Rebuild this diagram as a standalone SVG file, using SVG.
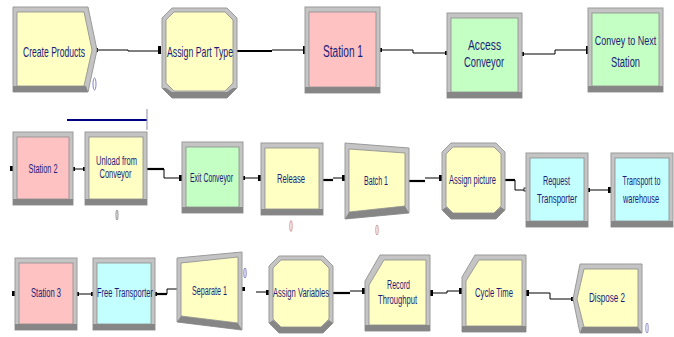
<svg xmlns="http://www.w3.org/2000/svg" width="674" height="337" viewBox="0 0 674 337">
<style>
.o{fill:#c4c4c4;stroke:#9a9a9a;stroke-width:1}
.b{fill:#868686}
.i{stroke:#8c8c8c;stroke-width:0.8}
.y{fill:#ffffc4}
.p{fill:#ffc2c2}
.g{fill:#c4ffc4}
.c{fill:#c4ffff}
.t{font-family:"Liberation Sans",Arial,sans-serif;fill:#1c1c78;text-anchor:middle}
.t1{font-size:15px}
.t2{font-size:12.5px}
.w{fill:none;stroke:#000;stroke-width:1}
.k{fill:none;stroke:#000;stroke-width:2.2}
.e{fill:#000}
.cnt{fill:none;stroke-width:1}
</style>
<rect width="674" height="337" fill="#fff"/>
<g id="connectors">
<path class="w" d="M97,50 H128 V51 H160"/><rect class="e" x="158" y="46" width="3" height="8"/><rect class="e" x="96" y="48" width="2" height="4"/>
<path class="k" d="M237,51 H272"/><path class="w" d="M272,50 H305"/><rect class="e" x="303" y="46" width="3" height="8"/>
<path class="w" d="M380,50 H413 V53 H447"/><rect class="e" x="379" y="48" width="3" height="4"/><rect class="e" x="445" y="51" width="3" height="4"/>
<path class="w" d="M522,54 H555 V50 H588"/><rect class="e" x="521" y="52" width="3" height="4"/><rect class="e" x="586" y="46" width="3" height="8"/>
<rect class="e" x="10" y="166" width="3" height="5"/>
<path class="w" d="M73,169 H85"/><rect class="e" x="73" y="167" width="2" height="4"/><rect class="e" x="83" y="167" width="2" height="4"/>
<path class="k" d="M147,169 H164"/><path class="w" d="M164,169 V178 H182"/><rect class="e" x="179" y="175" width="3" height="6"/>
<path class="w" d="M243,178 H261"/><rect class="e" x="243" y="176" width="2" height="4"/><rect class="e" x="258" y="175" width="3" height="6"/>
<path class="k" d="M323,180 H333"/><path class="w" d="M333,178 H345"/><rect class="e" x="342" y="175" width="3" height="6"/>
<path class="k" d="M409,181 H425"/><path class="w" d="M425,178 H442"/><rect class="e" x="439" y="175" width="3" height="6"/>
<path class="k" d="M505,180 H515"/><path class="w" d="M515,180 V190 H526"/><rect x="524" y="188" width="3" height="3" fill="#fff" stroke="#000" stroke-width="0.8"/>
<path class="w" d="M588,190 H611"/><rect class="e" x="588" y="188" width="2" height="4"/><rect class="e" x="608" y="187" width="3" height="6"/>
<rect class="e" x="12" y="291" width="3" height="5"/>
<path class="w" d="M77,294 H93"/><rect class="e" x="77" y="292" width="2" height="4"/><rect class="e" x="91" y="292" width="2" height="4"/>
<path class="k" d="M155,294 H167"/><path class="w" d="M167,294 V289 H177"/><rect class="e" x="155" y="292" width="2" height="4"/>
<rect class="e" x="242" y="287" width="3" height="4"/>
<path class="w" d="M256,292 H269"/><rect class="e" x="266" y="290" width="3" height="5"/>
<path class="k" d="M333,293 H350"/><path class="w" d="M350,291 H365"/><rect class="e" x="362" y="288" width="3" height="6"/>
<path class="w" d="M430,293 H447 V291 H462"/><rect class="e" x="430" y="290" width="3" height="6"/><rect class="e" x="459" y="288" width="3" height="6"/>
<path class="w" d="M526,293 H550 V299 H573"/><rect class="e" x="526" y="290" width="3" height="6"/><rect class="e" x="571" y="297" width="3" height="4"/>
<path d="M67,120 H147" stroke="#000080" stroke-width="2"/><path d="M147,109 V130" stroke="#8a8ab0" stroke-width="1"/>
</g>
<g id="create-products">
<polygon class="o" points="13,7 88,7 97,50 88,92 13,92"/>
<polygon class="b" points="13,86 86,86 88,92 13,92"/>
<polygon class="i y" points="17,12 84,12 92,50 84,86 17,86"/>
<text class="t t1" x="54" y="57" textLength="62" lengthAdjust="spacingAndGlyphs">Create Products</text>
<ellipse class="cnt" cx="94.5" cy="84" rx="1.5" ry="6" stroke="#8080c8"/>
</g>
<g id="assign-part-type">
<polygon class="o" points="172,8 227,8 237,18 237,88 227,98 172,98 162,88 162,18"/>
<polygon class="b" points="166,88 172,92 227,92 233,88 237,88 227,98 172,98 162,88"/>
<polygon class="i y" points="174,12 225,12 233,20 233,83 225,91 174,91 166,83 166,20"/>
<text class="t t1" x="200" y="57" textLength="66" lengthAdjust="spacingAndGlyphs">Assign Part Type</text>
</g>
<g id="station-1">
<rect class="o" x="305" y="7" width="75" height="86"/>
<rect class="b" x="305" y="87" width="75" height="6"/>
<rect class="i p" x="309" y="12" width="67" height="75"/>
<text class="t" font-size="16" x="343" y="57" textLength="40" lengthAdjust="spacingAndGlyphs">Station 1</text>
</g>
<g id="access-conveyor">
<rect class="o" x="447" y="13" width="75" height="85"/>
<rect class="b" x="447" y="92" width="75" height="6"/>
<rect class="i g" x="451" y="18" width="67" height="74"/>
<text class="t" font-size="14" x="484.5" y="50" textLength="33" lengthAdjust="spacingAndGlyphs">Access</text>
<text class="t" font-size="14" x="484" y="67" textLength="40" lengthAdjust="spacingAndGlyphs">Conveyor</text>
</g>
<g id="convey-to-next-station">
<rect class="o" x="588" y="8" width="75" height="84"/>
<rect class="b" x="588" y="86" width="75" height="6"/>
<rect class="i g" x="592" y="13" width="67" height="73"/>
<text class="t" font-size="13.5" transform="translate(625.5,45) scale(0.665,1)">Convey to Next</text>
<text class="t" font-size="14" x="625.5" y="67" textLength="29" lengthAdjust="spacingAndGlyphs">Station</text>
</g>
<g id="station-2">
<rect class="o" x="13" y="132" width="60" height="73"/>
<rect class="b" x="13" y="199" width="60" height="6"/>
<rect class="i p" x="17" y="137" width="52" height="62"/>
<text class="t t2" x="43" y="173" textLength="29" lengthAdjust="spacingAndGlyphs">Station 2</text>
</g>
<g id="unload-from-conveyor">
<rect class="o" x="85" y="132" width="62" height="73"/>
<rect class="b" x="85" y="199" width="62" height="6"/>
<rect class="i y" x="89" y="137" width="54" height="62"/>
<text class="t t2" x="116.5" y="165" textLength="41" lengthAdjust="spacingAndGlyphs">Unload from</text>
<text class="t t2" x="115.5" y="178" textLength="32" lengthAdjust="spacingAndGlyphs">Conveyor</text>
<ellipse class="cnt" cx="117" cy="215" rx="1" ry="5" stroke="#909090"/>
</g>
<g id="exit-conveyor">
<rect class="o" x="182" y="142" width="61" height="71"/>
<rect class="b" x="182" y="207" width="61" height="6"/>
<rect class="i g" x="186" y="147" width="53" height="60"/>
<text class="t t2" x="211.5" y="182" textLength="43" lengthAdjust="spacingAndGlyphs">Exit Conveyor</text>
</g>
<g id="release">
<rect class="o" x="261" y="143" width="62" height="72"/>
<rect class="b" x="261" y="209" width="62" height="6"/>
<rect class="i y" x="265" y="148" width="54" height="61"/>
<text class="t t2" x="291" y="183" textLength="28" lengthAdjust="spacingAndGlyphs">Release</text>
<ellipse class="cnt" cx="291" cy="226" rx="1.2" ry="5.5" stroke="#d09a9a"/>
</g>
<g id="batch-1">
<polygon class="o" points="345,143 409,148 409,213 345,219"/>
<polygon class="b" points="349,212 405,206 409,213 345,219"/>
<polygon class="i y" points="349,149 405,153 405,206 349,212"/>
<text class="t t2" x="376" y="185" textLength="24" lengthAdjust="spacingAndGlyphs">Batch 1</text>
<ellipse class="cnt" cx="377" cy="230" rx="1.2" ry="5" stroke="#d09a9a"/>
</g>
<g id="assign-picture">
<polygon class="o" points="451,143 496,143 505,152 505,210 496,219 451,219 442,210 442,152"/>
<polygon class="b" points="446,207 453,213 494,213 501,207 505,210 496,219 451,219 442,210"/>
<polygon class="i y" points="453,147 494,147 501,154 501,206 494,213 453,213 446,206 446,154"/>
<text class="t t2" x="472.5" y="184" textLength="47" lengthAdjust="spacingAndGlyphs">Assign picture</text>
</g>
<g id="request-transporter">
<rect class="o" x="526" y="153" width="62" height="74"/>
<rect class="b" x="526" y="221" width="62" height="6"/>
<rect class="i c" x="530" y="158" width="54" height="63"/>
<text class="t t2" x="556.5" y="185" textLength="27" lengthAdjust="spacingAndGlyphs">Request</text>
<text class="t t2" x="557" y="203" textLength="40" lengthAdjust="spacingAndGlyphs">Transporter</text>
</g>
<g id="transport-to-warehouse">
<rect class="o" x="611" y="153" width="62" height="74"/>
<rect class="b" x="611" y="221" width="62" height="6"/>
<rect class="i c" x="615" y="158" width="54" height="63"/>
<text class="t t2" transform="translate(641.5,185) scale(0.565,1)">Transport to</text>
<text class="t t2" transform="translate(641,203) scale(0.59,1)">warehouse</text>
</g>
<g id="station-3">
<rect class="o" x="15" y="258" width="62" height="72"/>
<rect class="b" x="15" y="324" width="62" height="6"/>
<rect class="i p" x="19" y="263" width="54" height="61"/>
<text class="t t2" x="46" y="297" textLength="30" lengthAdjust="spacingAndGlyphs">Station 3</text>
</g>
<g id="free-transporter">
<rect class="o" x="93" y="258" width="62" height="72"/>
<rect class="b" x="93" y="324" width="62" height="6"/>
<rect class="i c" x="97" y="263" width="54" height="61"/>
<text class="t t2" x="125" y="297" textLength="56" lengthAdjust="spacingAndGlyphs">Free Transporter</text>
</g>
<g id="separate-1">
<polygon class="o" points="177,258 242,252 242,330 177,322"/>
<polygon class="b" points="181,316 238,323 242,330 177,322"/>
<polygon class="i y" points="181,263 238,257 238,323 181,316"/>
<text class="t t2" x="209.5" y="295" textLength="35" lengthAdjust="spacingAndGlyphs">Separate 1</text>
<ellipse class="cnt" cx="245" cy="273" rx="1.2" ry="5" stroke="#8080c8"/>
</g>
<g id="assign-variables">
<polygon class="o" points="279,256 323,256 333,266 333,323 323,333 279,333 269,323 269,266"/>
<polygon class="b" points="273,320 281,327 321,327 329,320 333,323 323,333 279,333 269,323"/>
<polygon class="i y" points="281,260 321,260 329,268 329,319 321,327 281,327 273,319 273,268"/>
<text class="t t2" x="301" y="297" textLength="56" lengthAdjust="spacingAndGlyphs">Assign Variables</text>
</g>
<g id="record-throughput">
<polygon class="o" points="380,255 430,255 430,331 365,331 365,281"/>
<rect class="b" x="365" y="325" width="65" height="6"/>
<polygon class="i y" points="384,260 426,260 426,325 369,325 369,285"/>
<text class="t t2" x="398.5" y="289" textLength="23" lengthAdjust="spacingAndGlyphs">Record</text>
<text class="t t2" x="397.5" y="304" textLength="39" lengthAdjust="spacingAndGlyphs">Throughput</text>
</g>
<g id="cycle-time">
<polygon class="o" points="475,255 526,255 526,332 462,332 462,277"/>
<rect class="b" x="462" y="326" width="64" height="6"/>
<polygon class="i y" points="479,260 522,260 522,326 466,326 466,281"/>
<text class="t t2" x="494" y="297" textLength="38" lengthAdjust="spacingAndGlyphs">Cycle Time</text>
</g>
<g id="dispose-2">
<polygon class="o" points="580,264 642,264 642,333 580,333 573,299"/>
<polygon class="b" points="582,327 638,327 642,333 580,333"/>
<polygon class="i y" points="584,269 638,269 638,327 584,327 577,299"/>
<text class="t t2" x="607" y="302" textLength="36" lengthAdjust="spacingAndGlyphs">Dispose 2</text>
<ellipse class="cnt" cx="647" cy="328" rx="1.2" ry="5" stroke="#9090c8"/>
</g>
</svg>
